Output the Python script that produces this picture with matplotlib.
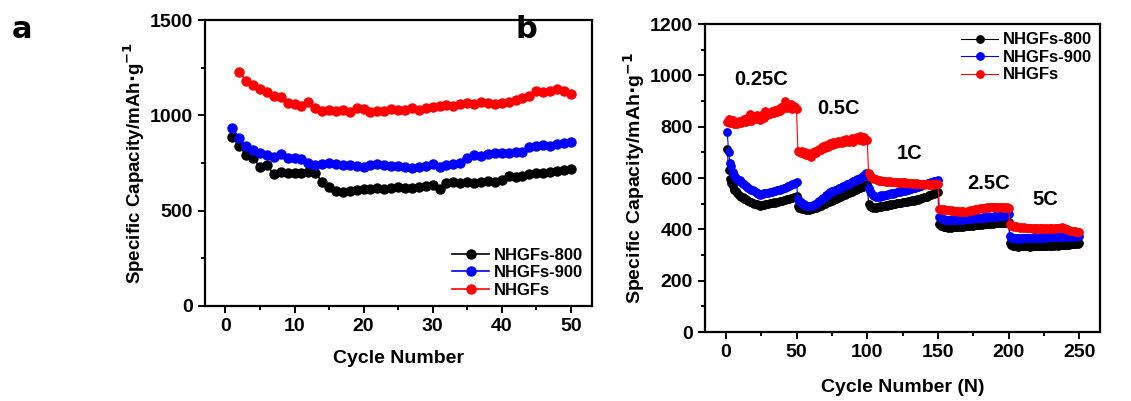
import matplotlib
matplotlib.use("Agg")
import matplotlib.pyplot as plt
from matplotlib.ticker import MultipleLocator
import numpy as np

plt.rcParams.update({
    'font.family': 'Liberation Sans',
    'font.weight': 'bold',
    'axes.labelweight': 'bold',
    'font.size': 13,
})

# ---- panel a: cycling at fixed rate ----
cyc_a = np.arange(1, 51)
a_800 = [885, 840, 790, 775, 730, 740, 690, 705, 695, 695,
         700, 705, 700, 650, 625, 605, 600, 605, 610, 615,
         615, 620, 615, 620, 625, 620, 620, 625, 630, 635,
         615, 645, 650, 645, 650, 645, 650, 655, 650, 660,
         680, 675, 680, 690, 695, 700, 705, 710, 715, 720]
a_900 = [935, 880, 840, 820, 800, 790, 780, 795, 775, 775,
         770, 750, 740, 745, 750, 745, 740, 740, 735, 730,
         740, 745, 740, 735, 735, 730, 725, 730, 735, 745,
         730, 740, 745, 750, 775, 790, 785, 795, 800, 800,
         805, 810, 810, 835, 840, 845, 840, 850, 855, 860]
cyc_a_red = np.arange(2, 51)
a_nhgf = [1230, 1180, 1160, 1140, 1120, 1100, 1095, 1065, 1060,
          1050, 1070, 1040, 1025, 1030, 1025, 1030, 1015, 1040, 1035,
          1020, 1025, 1025, 1035, 1030, 1030, 1040, 1030, 1040, 1045,
          1050, 1055, 1050, 1060, 1065, 1060, 1070, 1065, 1060, 1065,
          1070, 1080, 1090, 1100, 1130, 1125, 1130, 1140, 1130, 1110]

# ---- panel b: rate capability ----
cyc_b = np.arange(1, 251)
b_nhgf = [820, 830, 815, 818, 825, 812, 820, 810, 822, 818,
          815, 825, 830, 820, 835, 828, 850, 822, 830, 840,
          832, 845, 838, 828, 842, 850, 835, 860, 845, 850,
          848, 855, 860, 852, 865, 858, 870, 862, 875, 868,
          880, 900, 872, 885, 878, 890, 870, 882, 875, 870,
          705, 700, 698, 705, 695, 700, 690, 698, 688, 682,
          695, 700, 705, 698, 710, 715, 708, 720, 725, 718,
          730, 722, 728, 735, 730, 740, 732, 738, 745, 735,
          742, 738, 748, 740, 752, 745, 740, 750, 755, 742,
          748, 752, 760, 750, 765, 755, 745, 758, 750, 748,
          620, 610, 605, 600, 598, 595, 592, 590, 592, 588,
          590, 588, 585, 590, 586, 588, 584, 586, 585, 583,
          585, 582, 584, 580, 583, 581, 584, 580, 582, 579,
          580, 578, 581, 577, 579, 576, 578, 575, 577, 574,
          576, 575, 578, 574, 576, 573, 577, 575, 578, 575,
          480, 478, 476, 478, 475, 477, 474, 476, 472, 474,
          471, 473, 470, 472, 469, 471, 468, 470, 467, 469,
          470, 472, 474, 473, 476, 478, 477, 480, 481, 482,
          483, 484, 485, 483, 486, 485, 487, 486, 488, 486,
          487, 485, 488, 486, 487, 485, 486, 484, 486, 485,
          420, 415, 412, 410, 412, 408, 410, 407, 409, 406,
          408, 405, 407, 404, 406, 405, 403, 406, 404, 405,
          403, 406, 404, 402, 405, 403, 404, 402, 405, 403,
          404, 402, 405, 406, 404, 407, 405, 408, 406, 403,
          400, 398, 396, 395, 393, 394, 392, 390, 391, 390]
b_900 = [780, 700, 660, 645, 625, 610, 600, 595, 590, 592,
         585, 578, 575, 570, 565, 562, 558, 555, 552, 548,
         545, 540, 538, 535, 537, 538, 540, 542, 540, 543,
         545, 547, 546, 550, 548, 552, 555, 553, 557, 558,
         560, 562, 565, 568, 570, 572, 575, 578, 582, 585,
         520, 510, 505, 500, 498, 495, 492, 490, 492, 490,
         493, 495, 497, 500, 505, 510, 515, 518, 522, 528,
         532, 535, 540, 545, 548, 550, 552, 555, 558, 560,
         562, 565, 568, 570, 572, 575, 578, 582, 585, 588,
         590, 592, 595, 598, 600, 605, 608, 612, 620, 610,
         560, 550, 540, 535, 530, 525, 528, 530, 528, 532,
         530, 534, 535, 533, 537, 538, 540, 539, 542, 543,
         545, 544, 547, 548, 550, 552, 551, 554, 555, 557,
         558, 560, 562, 563, 565, 566, 568, 570, 572, 575,
         576, 578, 580, 582, 585, 584, 587, 588, 590, 592,
         450, 445, 442, 440, 438, 437, 436, 435, 436, 435,
         436, 437, 435, 438, 437, 439, 438, 440, 439, 441,
         440, 442, 441, 443, 442, 444, 443, 445, 444, 446,
         445, 447, 446, 448, 447, 449, 448, 450, 449, 451,
         450, 452, 451, 453, 452, 454, 453, 455, 456, 458,
         375, 368, 366, 365, 364, 365, 366, 364, 365, 366,
         365, 367, 366, 368, 367, 366, 368, 367, 369, 368,
         367, 369, 368, 370, 369, 368, 370, 369, 371, 370,
         369, 371, 370, 372, 371, 370, 372, 371, 373, 372,
         371, 373, 372, 374, 373, 372, 374, 373, 375, 376]
b_800 = [715, 632, 598, 582, 570, 555, 548, 540, 535, 530,
         528, 525, 520, 518, 515, 510, 508, 505, 502, 500,
         498, 497, 495, 492, 494, 495, 496, 498, 497, 500,
         501, 503, 502, 505, 504, 507, 508, 510, 509, 512,
         513, 515, 517, 518, 520, 522, 524, 526, 528, 530,
         490, 485, 482, 480, 478, 480, 477, 479, 476, 478,
         480, 482, 484, 485, 488, 490, 492, 495, 497, 500,
         502, 505, 507, 510, 512, 515, 517, 520, 522, 525,
         527, 530, 532, 535, 537, 540, 542, 545, 547, 550,
         552, 555, 557, 560, 562, 565, 567, 570, 572, 578,
         500, 492, 488, 485, 486, 484, 487, 488, 490, 489,
         491, 492, 494, 493, 495, 497, 496, 498, 500, 499,
         501, 502, 504, 503, 505, 507, 506, 508, 510, 509,
         511, 513, 512, 515, 517, 516, 519, 521, 523, 525,
         527, 528, 530, 532, 534, 536, 538, 540, 542, 545,
         420, 415, 412, 410, 408, 410, 407, 409, 406, 408,
         410, 408, 411, 409, 412, 410, 413, 411, 414, 412,
         413, 415, 414, 416, 415, 417, 416, 418, 417, 419,
         418, 420, 419, 421, 420, 422, 421, 423, 422, 424,
         423, 425, 424, 426, 425, 424, 426, 425, 427, 428,
         345, 338, 336, 335, 334, 335, 333, 335, 334, 336,
         335, 334, 336, 335, 333, 335, 334, 336, 335, 334,
         336, 335, 337, 336, 335, 337, 336, 338, 337, 336,
         338, 337, 339, 338, 337, 339, 338, 340, 339, 341,
         340, 342, 341, 343, 342, 344, 343, 345, 344, 345]

rate_labels = ["0.25C", "0.5C", "1C", "2.5C", "5C"]
rate_pos = [(25, 985), (80, 870), (130, 695), (186, 580), (226, 515)]

ylab = r"Specific Capacity/mAh$\cdot$g$^{\mathbf{-1}}$"


def style_axes(ax):
    for s in ax.spines.values():
        s.set_linewidth(1.6)
    ax.tick_params(which='both', direction='out', width=1.4, top=False, right=False)
    ax.tick_params(which='major', length=5, labelsize=14)
    ax.tick_params(which='minor', length=3)
    for lab in ax.get_xticklabels() + ax.get_yticklabels():
        lab.set_fontweight('bold')


fig = plt.figure(figsize=(11.31, 4.01), dpi=100)

# panel a
ax1 = fig.add_axes([0.181, 0.237, 0.342, 0.713])
ax1.plot(cyc_a, a_800, '-o', color='black', ms=6.5, lw=1.2, label='NHGFs-800')
ax1.plot(cyc_a, a_900, '-o', color='#0000ff', ms=6.5, lw=1.2, label='NHGFs-900')
ax1.plot(cyc_a_red, a_nhgf, '-o', color='#ff0000', ms=6.5, lw=1.2, label='NHGFs')
ax1.set_xlim(-3, 53)
ax1.set_ylim(0, 1500)
ax1.xaxis.set_major_locator(MultipleLocator(10))
ax1.xaxis.set_minor_locator(MultipleLocator(5))
ax1.yaxis.set_major_locator(MultipleLocator(500))
ax1.yaxis.set_minor_locator(MultipleLocator(250))
ax1.set_xlabel("Cycle Number", fontsize=14, labelpad=11)
ax1.set_ylabel(ylab, fontsize=13.5, labelpad=2)
style_axes(ax1)
leg1 = ax1.legend(loc='lower right', frameon=False, handlelength=2.2,
                  handletextpad=0.3, labelspacing=0.15, borderaxespad=0.1,
                  prop={'weight': 'bold', 'size': 12})

# panel b
ax2 = fig.add_axes([0.623, 0.172, 0.350, 0.768])
ax2.plot(cyc_b, b_800, '-o', color='black', ms=5.3, lw=0.8, label='NHGFs-800')
ax2.plot(cyc_b, b_900, '-o', color='#0000ff', ms=5.3, lw=0.8, label='NHGFs-900')
ax2.plot(cyc_b, b_nhgf, '-o', color='#ff0000', ms=5.3, lw=0.8, label='NHGFs')
ax2.set_xlim(-15, 265)
ax2.set_ylim(0, 1200)
ax2.xaxis.set_major_locator(MultipleLocator(50))
ax2.xaxis.set_minor_locator(MultipleLocator(25))
ax2.yaxis.set_major_locator(MultipleLocator(200))
ax2.yaxis.set_minor_locator(MultipleLocator(100))
ax2.set_xlabel("Cycle Number (N)", fontsize=14, labelpad=13)
ax2.set_ylabel(ylab, fontsize=14, labelpad=2)
style_axes(ax2)
for lab, (xx, yy) in zip(rate_labels, rate_pos):
    ax2.text(xx, yy, lab, ha='center', va='center', fontsize=14.5, fontweight='bold')
leg2 = ax2.legend(loc='upper right', frameon=False, handlelength=2.2,
                  handletextpad=0.3, labelspacing=0.15, borderaxespad=0.1,
                  prop={'weight': 'bold', 'size': 12})

fig.text(0.010, 0.905, "a", fontsize=22, fontweight='bold', family='DejaVu Sans')
fig.text(0.456, 0.905, "b", fontsize=22, fontweight='bold', family='DejaVu Sans')

fig.savefig("out.png", dpi=100)
